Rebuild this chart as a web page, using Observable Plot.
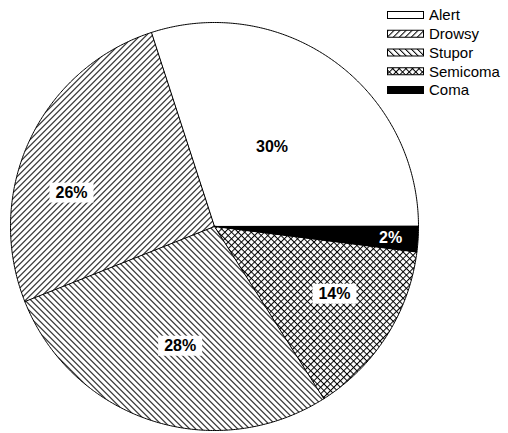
<!DOCTYPE html>
<html><head><meta charset="utf-8">
<script src="https://cdn.jsdelivr.net/npm/d3@7"></script>
<script src="https://cdn.jsdelivr.net/npm/@observablehq/plot@0.6"></script>
<style>
body{margin:0;background:#fff;font-family:"Liberation Sans",Arial,sans-serif;}
#wrap{position:relative;width:508px;height:433px;overflow:hidden;}
#legend{position:absolute;left:0;top:0;}
</style></head><body><div id="wrap"></div>
<script>
// ---- data ----
const categories = ["Alert", "Drowsy", "Stupor", "Semicoma", "Coma"];
const percents = [30, 26, 28, 14, 2];
const valueLabels = ["30%", "26%", "28%", "14%", "2%"];

// ---- styles ----
const fills = {Alert: "#ffffff", Drowsy: "url(#hatch-fwd)", Stupor: "url(#hatch-back)", Semicoma: "url(#hatch-cross)", Coma: "#000000"};
const labelRadius = {Alert: 0.48, Drowsy: 0.72, Stupor: 0.61, Semicoma: 0.675, Coma: 0.865};
const labelTurn = {Alert: 0, Drowsy: 12, Stupor: 2, Semicoma: 3, Coma: 0}; // degrees
const labelInk = {Alert: "#000", Drowsy: "#000", Stupor: "#000", Semicoma: "#000", Coma: "#fff"};

const W = 508, H = 433, cx = 214, cy = 226, R = 204;

// pie geometry in data units (start at 3 o'clock, counterclockwise)
const total = d3.sum(percents);
let acc = 0;
const slices = categories.map((c, i) => {
  const span = percents[i] / total * 2 * Math.PI;
  const s = {cat: c, a0: acc, a1: acc + span, label: valueLabels[i]};
  acc += span;
  s.mid = (s.a0 + s.a1) / 2 + labelTurn[c] * Math.PI / 180;
  return s;
});
function slicePoints(s) {
  const pts = [{x: 0, y: 0}];
  const n = Math.max(2, Math.ceil((s.a1 - s.a0) / (Math.PI / 360)));
  for (let k = 0; k <= n; k++) {
    const a = s.a0 + (s.a1 - s.a0) * k / n;
    pts.push({x: Math.cos(a), y: Math.sin(a)});
  }
  return pts;
}

const plot = Plot.plot({
  width: W, height: H,
  marginLeft: cx - R, marginRight: W - (cx + R), marginTop: cy - R, marginBottom: H - (cy + R),
  x: {domain: [-1, 1], axis: null},
  y: {domain: [-1, 1], axis: null},
  style: {background: "white"},
  marks: [
    ...slices.map(s => Plot.line(slicePoints(s), {x: "x", y: "y", fill: fills[s.cat], stroke: "#000", strokeWidth: 1, curve: "linear-closed"})),
    Plot.text(slices.filter(s => s.cat !== "Coma"), {
      x: s => labelRadius[s.cat] * Math.cos(s.mid),
      y: s => labelRadius[s.cat] * Math.sin(s.mid),
      text: "label", fontSize: 16, fontWeight: "bold", fill: "#000",
      fontFamily: "Liberation Sans, Arial, sans-serif", className: "pct"
    }),
    Plot.text(slices.filter(s => s.cat === "Coma"), {
      x: s => labelRadius[s.cat] * Math.cos(s.mid),
      y: s => labelRadius[s.cat] * Math.sin(s.mid),
      text: "label", fontSize: 16, fontWeight: "bold", fill: s => labelInk[s.cat],
      fontFamily: "Liberation Sans, Arial, sans-serif"
    })
  ]
});

const svg = d3.select(plot);
const defs = svg.insert("defs", ":first-child");
function hatch(id, size, cross, rot) {
  const p = defs.append("pattern").attr("id", id).attr("patternUnits", "userSpaceOnUse")
    .attr("width", size).attr("height", size).attr("patternTransform", `rotate(${rot})`);
  p.append("rect").attr("width", size).attr("height", size).attr("fill", "#fff");
  p.append("line").attr("x1", 0.5).attr("y1", 0).attr("x2", 0.5).attr("y2", size).attr("stroke", "#000").attr("stroke-width", 1);
  if (cross) p.append("line").attr("x1", 0).attr("y1", 0.5).attr("x2", size).attr("y2", 0.5).attr("stroke", "#000").attr("stroke-width", 1);
}
hatch("hatch-fwd", 6 / Math.SQRT2, false, 45);
hatch("hatch-back", 6 / Math.SQRT2, false, -45);
hatch("hatch-cross", 6.6 / Math.SQRT2, true, 45);

document.getElementById("wrap").appendChild(plot);

// white boxes behind the percentage labels
svg.selectAll("g.pct text").each(function () {
  const b = this.getBBox();
  const t = this.getAttribute("transform");
  const r = d3.select(this.parentNode).insert("rect", () => this)
    .attr("x", b.x - 6).attr("y", b.y + b.height / 2 - 10)
    .attr("width", b.width + 12).attr("height", 20).attr("fill", "#fff");
  if (t) r.attr("transform", t);
});

// legend
const leg = d3.select("#wrap").append("svg").attr("id", "legend").attr("width", W).attr("height", 110);
const rowY = d3.scalePoint().domain(categories).range([15, 90]);
const rows = leg.selectAll("g").data(categories).join("g").attr("transform", c => `translate(0,${rowY(c)})`);
rows.append("rect").attr("x", 387.5).attr("y", -3.5).attr("width", 36).attr("height", 7)
  .attr("fill", c => fills[c]).attr("stroke", "#000").attr("stroke-width", 1);
rows.append("text").attr("x", 429).attr("y", 0).attr("dy", "0.36em").text(c => c)
  .attr("font-size", 15).attr("font-family", "Liberation Sans, Arial, sans-serif").attr("fill", "#000");
</script>
</body></html>
